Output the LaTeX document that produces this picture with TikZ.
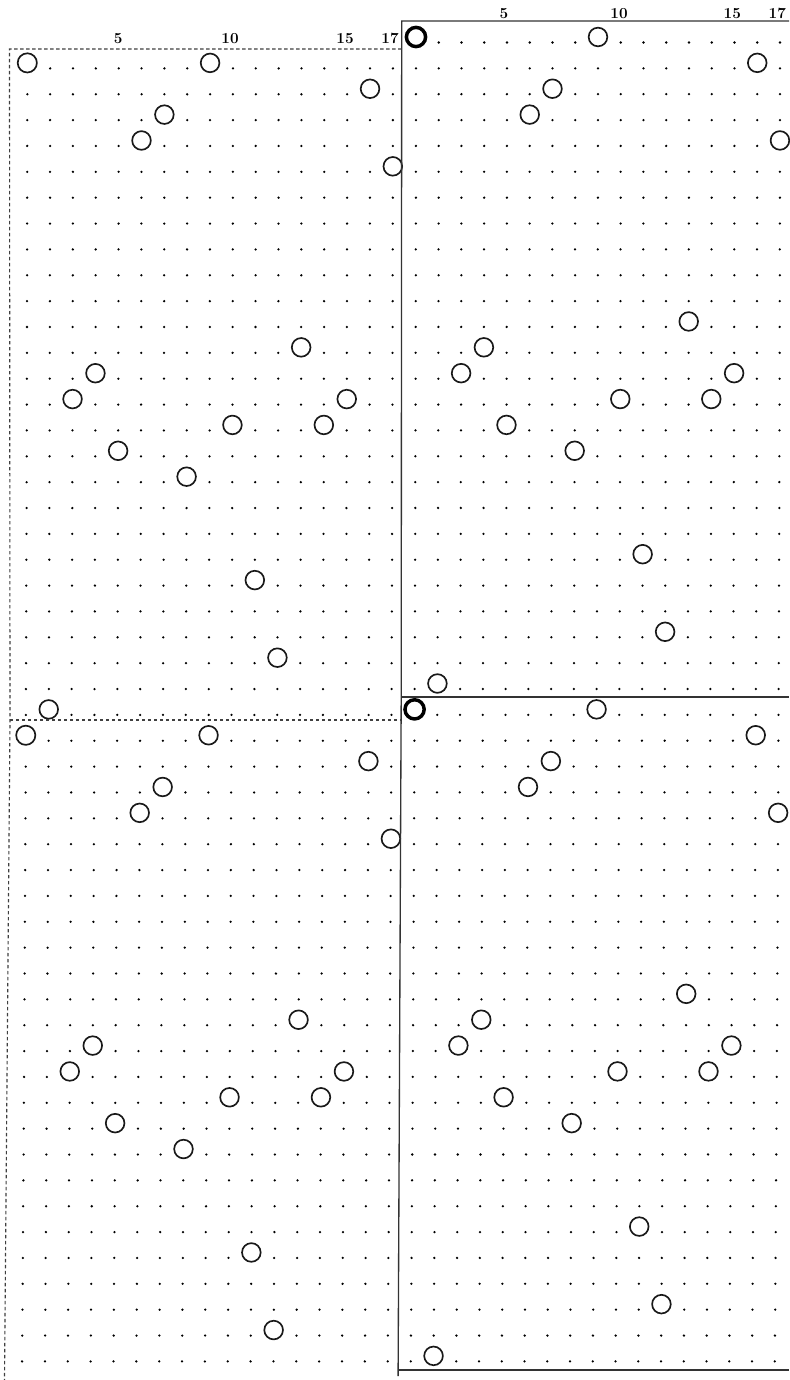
\documentclass[tikz,border=0pt]{standalone}
\tikzset{
  griddot/.style={fill=black},
  ring/.style={draw=black!90, fill=white, line width=1.25pt},
  thickring/.style={draw=black, fill=white, line width=2.6pt},
  frameline/.style={draw=black!80, line width=1pt},
  dashframe/.style={draw=black!75, line width=0.85pt, dash pattern=on 2.5pt off 2pt},
  collabel/.style={font=\fontsize{11.5}{13}\selectfont\bfseries, inner sep=0pt},
}
% #1 x of column 1, #2 column step, #3 y of row 1, #4 number of rows
\newcommand\dotpanel[4]{%
  \foreach \r in {1,...,#4} {
    \pgfmathsetmacro\yy{#3+(\r-1)*25.86}
    \pgfmathsetmacro\dx{-5.2*(\yy/1360)^2}
    \foreach \c in {1,...,17} {
      \fill[griddot] ({#1+(\c-1)*#2+\dx},\yy) circle[radius=0.95pt];
    }
  }
}
% #5 style of the ring at row 1, column 1
\newcommand\ringpanel[5]{%
  \foreach \r/\c in {1/1,1/9,2/16,3/7,4/6,5/17,12/13,13/4,14/3,14/15,15/10,15/14,16/5,17/8,21/11,24/12,26/2} {
    \ifnum\r>#4\relax\else
      \pgfmathsetmacro\yy{#3+(\r-1)*25.86}
      \pgfmathsetmacro\dx{-5.2*(\yy/1360)^2}
      \pgfmathtruncatemacro\isorigin{and(\r==1,\c==1)}
      \ifnum\isorigin=1
        \draw[#5] ({#1+(\c-1)*#2+\dx},\yy-5.5) circle[radius=7.2pt];
      \else
        \draw[ring] ({#1+(\c-1)*#2+\dx},\yy-5.5) circle[radius=7pt];
      \fi
    \fi
  }
}
\begin{document}
\begin{tikzpicture}[x=0.75pt,y=-0.75pt]
\useasboundingbox (0,0) rectangle (789,1380);
\fill[white] (0,0) rectangle (789,1380);
% dot grids
\dotpanel{27.3}{22.85}{68.4}{26}
\dotpanel{27.3}{22.85}{740.76}{25}
\dotpanel{416}{22.75}{42.5}{26}
\dotpanel{416}{22.75}{714.86}{26}
% rings
\ringpanel{27.3}{22.85}{68.4}{26}{ring}
\ringpanel{27.3}{22.85}{740.76}{25}{ring}
\ringpanel{416}{22.75}{42.5}{26}{thickring}
\ringpanel{416}{22.75}{714.86}{26}{thickring}
% frames
\coordinate (rtR) at (789,21);
\coordinate (rtL) at (401.7,21);
\coordinate (rmL) at (401.2,697);
\coordinate (rmR) at (789,697);
\coordinate (rbL) at (398.3,1370);
\coordinate (rbR) at (789,1370);
\coordinate (rEnd) at (398.1,1376);
\draw[frameline] (rtR) -- (rtL) -- (rmL) -- (rEnd);
\draw[frameline] (rmL) -- (rmR);
\draw[frameline] (rbL) -- (rbR);
\coordinate (ltR) at (401.5,49);
\coordinate (ltL) at (9.5,49);
\coordinate (lmL) at (10,720);
\coordinate (lmR) at (401.2,720);
\coordinate (lbL) at (4.5,1380);
\draw[dashframe] (ltR) -- (ltL) -- (lmL) -- (lbL);
\draw[dashframe] (lmL) -- (lmR);
% column labels
\node[collabel] (l5)  at (118.3,38.3) {5};
\node[collabel] (l10) at (230,38.3) {10};
\node[collabel] (l15) at (345,38.3) {15};
\node[collabel] (l17) at (390,38.3) {17};
\node[collabel] (r5)  at (504,13.3) {5};
\node[collabel] (r10) at (619,13.3) {10};
\node[collabel] (r15) at (732.3,13.3) {15};
\node[collabel] (r17) at (777.3,13.3) {17};
\end{tikzpicture}
\end{document}
